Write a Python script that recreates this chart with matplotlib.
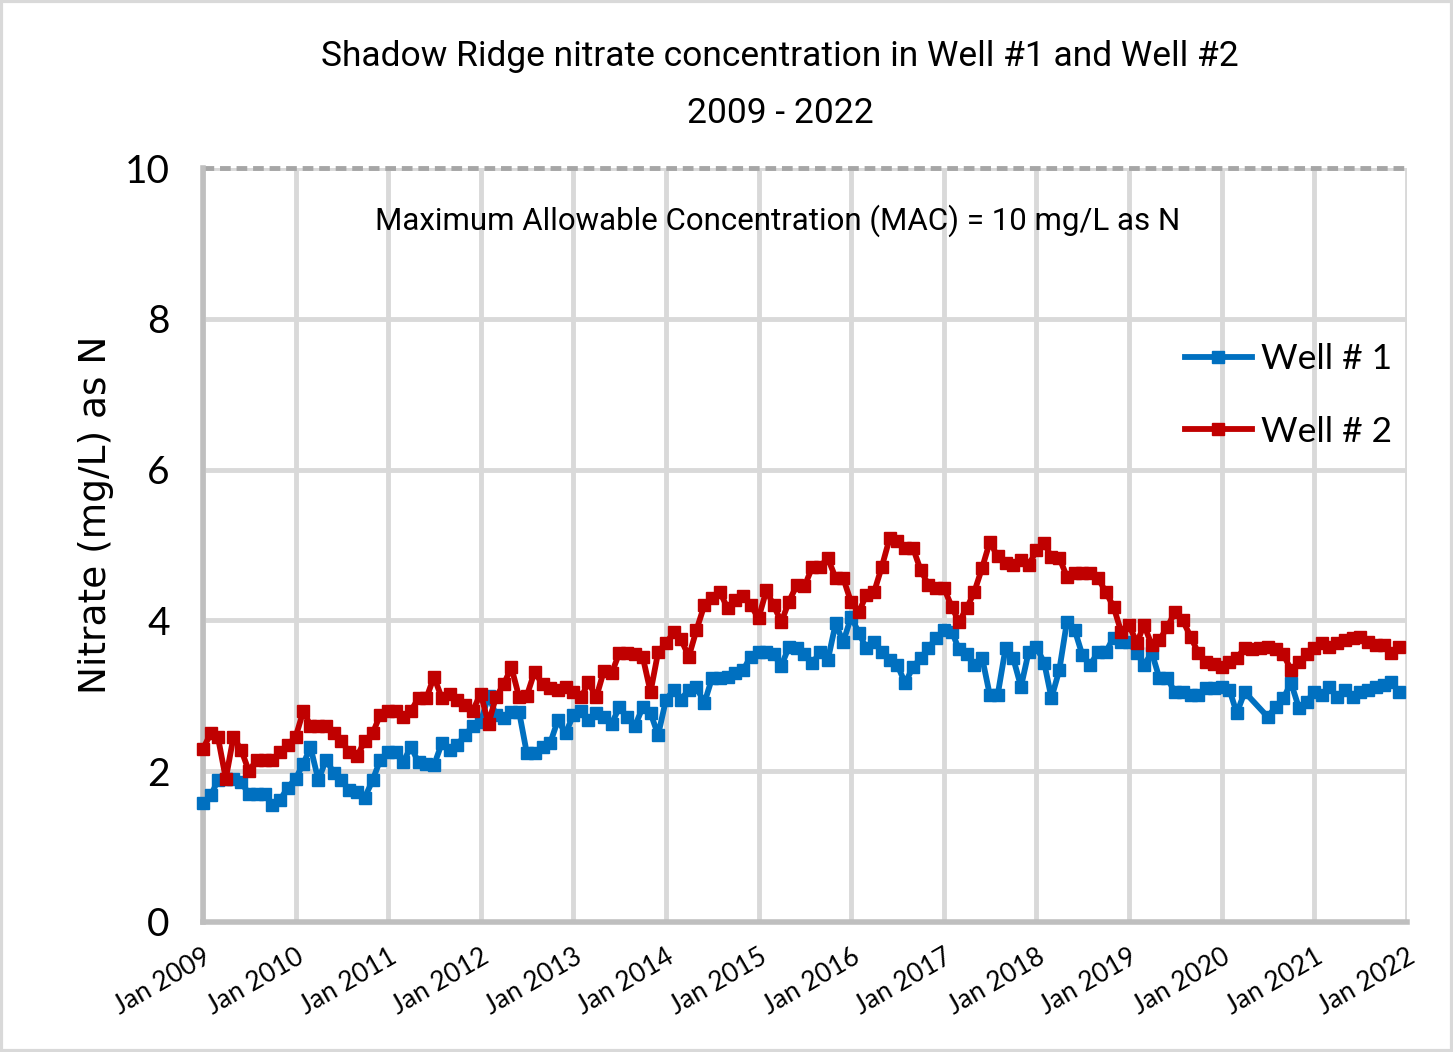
import numpy as np
import pandas as pd
import matplotlib
matplotlib.use("Agg")
import matplotlib.pyplot as plt
from matplotlib.patches import Rectangle

# monthly samples Jan 2009 .. Dec 2021 (nan = no sample that month)
well1 = [1.58, 1.68, 1.88, 1.9, 1.9, 1.85, 1.7, 1.7, 1.7, 1.55, 1.62, 1.78,
         1.9, 2.1, 2.32, 1.88, 2.15, 1.98, 1.88, 1.75, 1.72, 1.65, 1.88, 2.15,
         2.25, 2.25, 2.12, 2.32, 2.12, 2.1, 2.08, 2.37, 2.28, 2.35, 2.48, 2.6,
         2.65, 3.0, 2.75, 2.7, 2.78, 2.78, 2.24, 2.24, 2.32, 2.37, 2.68, 2.5,
         2.75, 2.8, 2.68, 2.77, 2.72, 2.63, 2.85, 2.72, 2.6, 2.85, 2.77, 2.48,
         2.95, 3.08, 2.95, 3.08, 3.12, 2.9, 3.23, 3.23, 3.25, 3.3, 3.34, 3.52,
         3.58, 3.58, 3.55, 3.4, 3.65, 3.63, 3.56, 3.43, 3.58, 3.47, 3.96, 3.71,
         4.05, 3.83, 3.63, 3.71, 3.58, 3.47, 3.41, 3.17, 3.38, 3.5, 3.63, 3.77,
         3.87, 3.85, 3.62, 3.55, 3.41, 3.5, 3.01, 3.01, 3.63, 3.5, 3.12, 3.58,
         3.65, 3.43, 2.97, 3.34, 3.98, 3.87, 3.54, 3.41, 3.58, 3.58, 3.77, 3.71,
         3.71, 3.57, 3.41, 3.57, 3.23, 3.23, 3.05, 3.05, 3.01, 3.01, 3.1, 3.1,
         3.12, 3.08, 2.77, 3.05, np.nan, np.nan, 2.72, 2.85, 2.97, 3.17, 2.84, 2.92,
         3.05, 3.01, 3.12, 2.98, 3.08, 2.98, 3.05, 3.08, 3.12, 3.14, 3.18, 3.05]

well2 = [2.3, 2.5, 2.45, 1.9, 2.45, 2.28, 2.0, 2.15, 2.15, 2.15, 2.25, 2.35,
         2.45, 2.8, 2.6, 2.6, 2.6, 2.5, 2.4, 2.25, 2.2, 2.4, 2.5, 2.75,
         2.8, 2.8, 2.72, 2.8, 2.97, 2.97, 3.25, 2.97, 3.03, 2.95, 2.88, 2.8,
         3.03, 2.63, 2.98, 3.15, 3.38, 2.98, 3.0, 3.32, 3.15, 3.1, 3.08, 3.12,
         3.05, 2.98, 3.18, 2.98, 3.33, 3.3, 3.57, 3.57, 3.55, 3.52, 3.05, 3.58,
         3.7, 3.84, 3.75, 3.52, 3.87, 4.2, 4.3, 4.38, 4.16, 4.27, 4.33, 4.2,
         4.03, 4.4, 4.2, 3.98, 4.25, 4.47, 4.45, 4.71, 4.71, 4.83, 4.56, 4.56,
         4.24, 4.11, 4.34, 4.38, 4.71, 5.09, 5.05, 4.96, 4.96, 4.67, 4.47, 4.43,
         4.43, 4.18, 3.98, 4.16, 4.38, 4.7, 5.04, 4.85, 4.76, 4.73, 4.8, 4.73,
         4.93, 5.02, 4.84, 4.83, 4.58, 4.63, 4.63, 4.63, 4.56, 4.38, 4.18, 3.85,
         3.94, 3.7, 3.94, 3.67, 3.74, 3.91, 4.11, 4.0, 3.78, 3.57, 3.45, 3.42,
         3.38, 3.45, 3.5, 3.63, 3.62, 3.63, 3.65, 3.62, 3.55, 3.34, 3.45, 3.55,
         3.63, 3.7, 3.65, 3.7, 3.74, 3.76, 3.78, 3.71, 3.67, 3.67, 3.57, 3.65]

years = list(range(2009, 2023))
mac = 10

dates = pd.date_range("2009-01-01", periods=len(well1), freq="MS")

fig = plt.figure(figsize=(14.53, 10.52), dpi=100)
ax = fig.add_axes([0.1397, 0.1236, 0.8286, 0.7167])

narrow = ["Roboto", "DejaVu Sans"]
body = ["Lato", "DejaVu Sans"]

for vals, col, lab in [(well1, "#0070C0", "Well # 1"), (well2, "#C00000", "Well # 2")]:
    v = np.array(vals, dtype=float)
    ok = ~np.isnan(v)
    ax.plot(dates[ok], v[ok], color=col, lw=4.2, marker="s", ms=9,
            label=lab, clip_on=False, zorder=3)

ax.axhline(mac, color="#a6a6a6", lw=3.5, ls=(0, (2.2, 1.2)), clip_on=False, zorder=2)
ax.text(0.477, 0.93, "Maximum Allowable Concentration (MAC) = 10 mg/L as N",
        transform=ax.transAxes, ha="center", va="center", fontsize=22.5, family=narrow)

ax.set_xlim(pd.Timestamp("2009-01-01"), pd.Timestamp("2022-01-01"))
ax.set_ylim(0, 10)
ticks = [pd.Timestamp(f"{y}-01-01") for y in years]
ax.set_xticks(ticks)
ax.set_xticklabels([f"Jan {y}" for y in years], rotation=30, ha="right",
                   rotation_mode="anchor", fontsize=19, family=body)
ax.set_yticks(range(0, 11, 2))
ax.set_yticklabels([str(t) for t in range(0, 11, 2)], fontsize=28, family=body)
ax.tick_params(axis="x", length=0, pad=16)
ax.tick_params(axis="y", length=0, pad=24)

ax.grid(True, color="#d9d9d9", lw=3.5)
ax.set_axisbelow(True)
for s in ["top", "right"]:
    ax.spines[s].set_visible(False)
for s in ["left", "bottom"]:
    ax.spines[s].set_color("#bfbfbf")
    ax.spines[s].set_linewidth(4)

ax.set_ylabel("Nitrate (mg/L) as N", fontsize=27)
ax.yaxis.set_label_coords(-0.074, 0.54)

fig.text(0.537, 0.946, "Shadow Ridge nitrate concentration in Well #1 and Well #2",
         ha="center", va="center", fontsize=25.5, family=narrow)
fig.text(0.537, 0.892, "2009 - 2022", ha="center", va="center", fontsize=25.5,
         family=narrow)

leg = ax.legend(loc="upper right", bbox_to_anchor=(1.014, 0.81), frameon=False,
                prop={"family": body, "size": 25.5}, handlelength=1.9,
                handletextpad=0.25, labelspacing=1.15)

fig.patches.append(Rectangle((0.001, 0.001), 0.998, 0.998, transform=fig.transFigure,
                             fill=False, edgecolor="#d9d9d9", lw=3))

fig.savefig("out.png", dpi=100)
